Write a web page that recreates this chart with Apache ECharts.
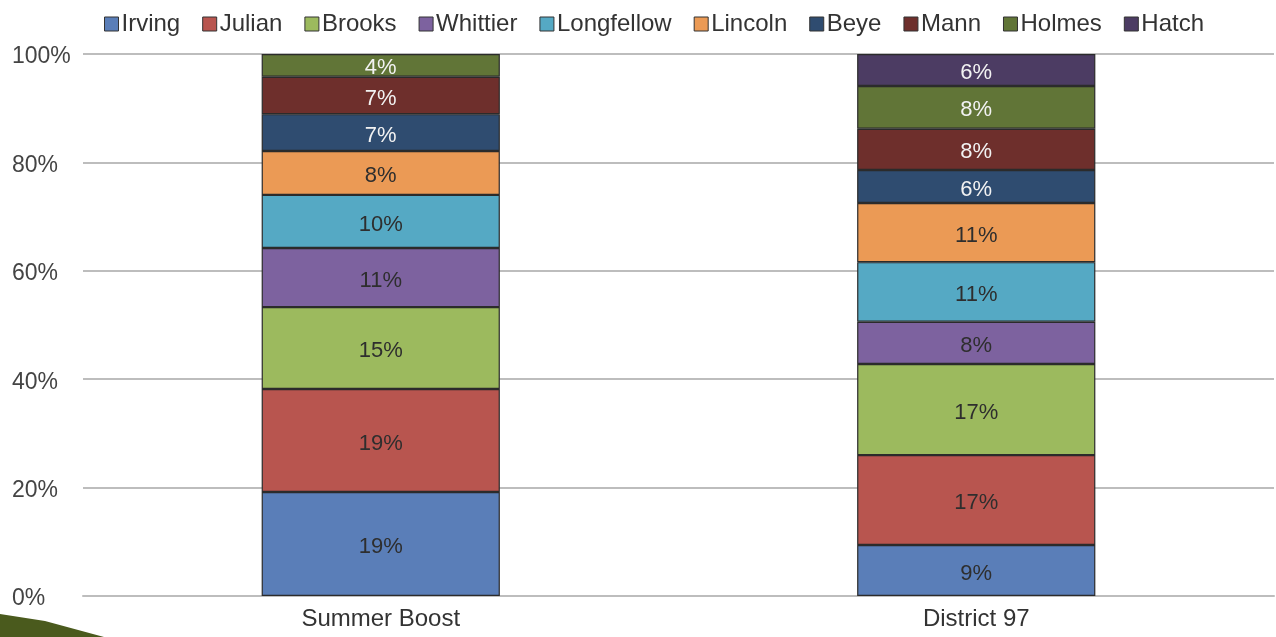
<!DOCTYPE html>
<html>
<head>
<meta charset="utf-8">
<script src="https://cdn.jsdelivr.net/npm/echarts@6/dist/echarts.min.js"></script>
<style>
html,body{margin:0;padding:0;background:#fff;}
#chart{width:1276px;height:637px;}
</style>
</head>
<body>
<div id="chart"></div>
<script>
const categories = ['Summer Boost', 'District 97'];
const seriesNames = ['Irving','Julian','Brooks','Whittier','Longfellow','Lincoln','Beye','Mann','Holmes','Hatch'];
const irving = [19.2, 9.4];
const julian = [19.0, 16.6];
const brooks = [15.1, 16.8];
const whittier = [10.9, 7.8];
const longfellow = [9.8, 11.0];
const lincoln = [8.1, 10.9];
const beye = [6.8, 6.1];
const mann = [6.9, 7.6];
const holmes = [4.2, 7.9];
const hatch = [0, 5.9];
const yTicks = [0, 20, 40, 60, 80, 100];

const values = [irving, julian, brooks, whittier, longfellow, lincoln, beye, mann, holmes, hatch];
const colors = ['#5A7EB8','#B8554F','#9CBA5E','#7D629F','#55A9C4','#EB9A55','#2F4C70','#6E2F2C','#617537','#4C3C63'];
const labelColors = ['#2e2e2e','#2e2e2e','#2e2e2e','#2e2e2e','#2e2e2e','#2e2e2e','#f2f2f2','#f2f2f2','#f2f2f2','#f2f2f2'];
const FONT = 'Liberation Sans, Arial, sans-serif';

const chart = echarts.init(document.getElementById('chart'), null, {renderer:'canvas'});
const series = seriesNames.map((name, i) => ({
  name: name,
  type: 'bar',
  stack: 'total',
  barWidth: '40%',
  data: values[i].map(v => v === 0 ? null : v),
  itemStyle: { color: colors[i], borderColor: '#2b2b2b', borderWidth: 1.2 },
  label: {
    show: true,
    position: 'inside',
    offset: [0, 3],
    formatter: p => Math.round(p.value) + '%',
    color: labelColors[i],
    fontSize: 22,
    fontFamily: FONT
  }
}));

chart.setOption({
  animation: false,
  color: colors,
  legend: {
    top: 7,
    left: 99,
    itemWidth: 14,
    itemHeight: 14,
    itemGap: 22,
    icon: 'rect',
    itemStyle: { borderColor: '#333', borderWidth: 1 },
    textStyle: { fontSize: 24, color: '#333', fontFamily: FONT, padding: [2,0,0,-2] },
    data: seriesNames
  },
  grid: { left: 83, right: 2, top: 54, bottom: 41 },
  xAxis: {
    type: 'category',
    data: categories,
    axisLine: { show: true, lineStyle: { color: '#bdbdbd', width: 2 } },
    axisTick: { show: false },
    axisLabel: { fontSize: 24, color: '#333', margin: 11, fontFamily: FONT }
  },
  yAxis: {
    type: 'value',
    min: 0,
    max: 100,
    interval: 20,
    axisLine: { show: false },
    axisTick: { show: false },
    axisLabel: {
      fontSize: 23, color: '#444', margin: 71, align: 'left',
      fontFamily: FONT,
      formatter: v => yTicks.includes(v) ? '{t|' + v + '%}' : '',
      rich: { t: { fontSize: 23, color: '#444', fontFamily: FONT, padding: [6, 0, 0, 0] } }
    },
    splitLine: { lineStyle: { color: '#bdbdbd', width: 2 } }
  },
  graphic: [{
    type: 'polygon',
    z: 100,
    shape: { points: [[0,614],[45,621],[104,637],[0,637]] },
    style: { fill: '#4A5A1D' }
  }],
  series: series
});
</script>
</body>
</html>
